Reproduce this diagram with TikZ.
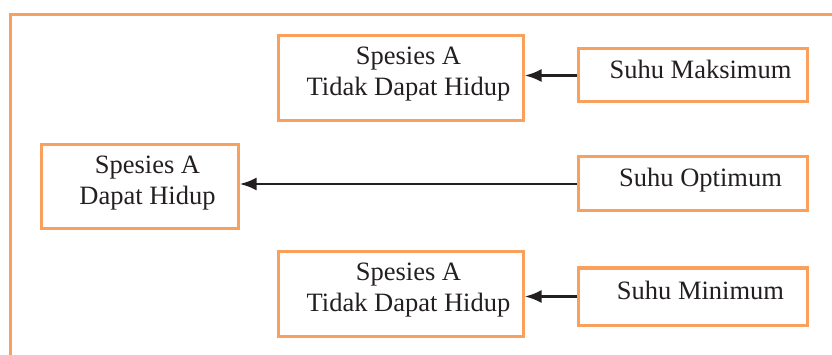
\documentclass[tikz,border=0pt]{standalone}
\usepackage{fontspec}
\setmainfont{Liberation Serif}
\definecolor{oranye}{RGB}{248,160,92}
\definecolor{panah}{RGB}{35,31,32}
\newcommand{\geser}{\hspace*{16pt}}
\tikzset{
    kotak/.style={draw=oranye, line width=3pt, minimum width=#1, inner sep=0pt, align=center,
        font=\fontsize{26.5}{31}\selectfont, text=panah},
    dualine/.style={text depth=14pt},
    satuline/.style={text height=18pt, text depth=12pt},
    panahkiri/.style={draw=panah, line width=2.9pt, -{Latex[length=17pt,width=13pt]}},
}
\usetikzlibrary{arrows.meta}
\begin{document}
\begin{tikzpicture}[x=1pt, y=-1pt]
    \useasboundingbox (0,0) rectangle (832,355);

    % bingkai luar
    \coordinate (bawah) at (10,360);
    \coordinate (kanan) at (840,15);
    \draw[oranye, line width=3pt] (bawah) |- (kanan);

    % kotak spesies
    \node[kotak=245pt, dualine, minimum height=85pt] (tidak1) at (400.5,78.5) {\geser Spesies A\\\geser Tidak Dapat Hidup};
    \node[kotak=197pt, dualine, minimum height=84pt] (hidup) at (139.5,187) {\geser Spesies A\\\geser Dapat Hidup};
    \node[kotak=245pt, dualine, minimum height=84pt] (tidak2) at (400.5,294) {\geser Spesies A\\\geser Tidak Dapat Hidup};

    % kotak suhu
    \node[kotak=229pt, satuline, minimum height=53pt] (maks) at (692.5,75.5) {\geser Suhu Maksimum};
    \node[kotak=229pt, satuline, minimum height=54pt] (opt) at (692.5,184) {\geser Suhu Optimum};
    \node[kotak=229pt, satuline, minimum height=57pt] (min) at (692.5,296.5) {\geser Suhu Minimum};

    \draw[panahkiri] (maks.west) -- (maks.west -| tidak1.east);
    \draw[panahkiri] (opt.west) -- (opt.west -| hidup.east);
    \draw[panahkiri] (min.west) -- (min.west -| tidak2.east);
\end{tikzpicture}
\end{document}
